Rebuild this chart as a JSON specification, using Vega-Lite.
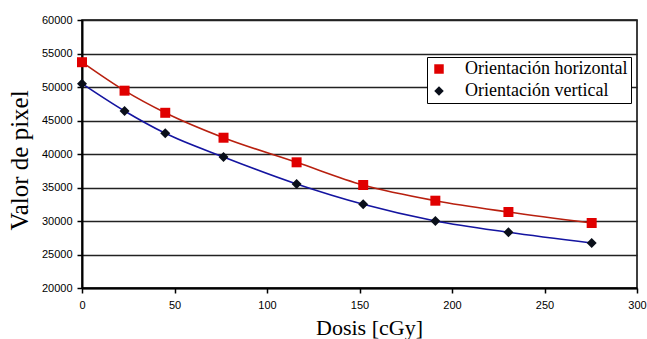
{
  "$schema": "https://vega.github.io/schema/vega-lite/v6.json",
  "width": 555,
  "height": 268,
  "autosize": "none",
  "padding": {"left": 82, "top": 20, "right": 10, "bottom": 51},
  "background": "white",
  "config": {
    "view": {"stroke": "black", "strokeWidth": 1.5},
    "axis": {
      "labelFont": "Liberation Sans",
      "labelFontSize": 11,
      "labelColor": "black",
      "titleFont": "Liberation Serif",
      "titleFontWeight": "normal",
      "titleColor": "black",
      "domainColor": "black",
      "domainWidth": 2,
      "tickColor": "black",
      "tickSize": 5,
      "tickWidth": 1.5
    }
  },
  "data": {
    "values": [
      {"dosis": 0, "valor": 53700, "serie": "Orientación horizontal"},
      {"dosis": 23, "valor": 49450, "serie": "Orientación horizontal"},
      {"dosis": 45, "valor": 46150, "serie": "Orientación horizontal"},
      {"dosis": 76.5, "valor": 42430, "serie": "Orientación horizontal"},
      {"dosis": 116, "valor": 38760, "serie": "Orientación horizontal"},
      {"dosis": 152, "valor": 35370, "serie": "Orientación horizontal"},
      {"dosis": 191, "valor": 33030, "serie": "Orientación horizontal"},
      {"dosis": 230.5, "valor": 31340, "serie": "Orientación horizontal"},
      {"dosis": 275.5, "valor": 29700, "serie": "Orientación horizontal"},
      {"dosis": 0, "valor": 50500, "serie": "Orientación vertical"},
      {"dosis": 23, "valor": 46420, "serie": "Orientación vertical"},
      {"dosis": 45, "valor": 43090, "serie": "Orientación vertical"},
      {"dosis": 76.5, "valor": 39550, "serie": "Orientación vertical"},
      {"dosis": 116, "valor": 35520, "serie": "Orientación vertical"},
      {"dosis": 152, "valor": 32490, "serie": "Orientación vertical"},
      {"dosis": 191, "valor": 30000, "serie": "Orientación vertical"},
      {"dosis": 230.5, "valor": 28310, "serie": "Orientación vertical"},
      {"dosis": 275.5, "valor": 26720, "serie": "Orientación vertical"}
    ]
  },
  "encoding": {
    "x": {
      "field": "dosis",
      "type": "quantitative",
      "scale": {"domain": [0, 300], "nice": false, "zero": false},
      "axis": {
        "title": "Dosis [cGy]",
        "titleFontSize": 22,
        "values": [0, 50, 100, 150, 200, 250, 300],
        "grid": false,
        "labelPadding": 6,
        "titlePadding": 7,
        "titleX": 287,
        "labelFlush": false
      }
    },
    "y": {
      "field": "valor",
      "type": "quantitative",
      "scale": {"domain": [20000, 60000], "nice": false, "zero": false},
      "axis": {
        "title": "Valor de pixel",
        "titleFontSize": 25,
        "values": [20000, 25000, 30000, 35000, 40000, 45000, 50000, 55000, 60000],
        "format": "d",
        "grid": true,
        "gridColor": "#222",
        "gridWidth": 1.3,
        "labelPadding": 5,
        "titlePadding": 9,
        "titleY": 140,
        "labelFlush": false
      }
    }
  },
  "layer": [
    {
      "transform": [{"filter": "datum.serie === 'Orientación horizontal'"}],
      "mark": {"type": "line", "interpolate": "monotone", "strokeWidth": 1.6, "color": "#b8200f"}
    },
    {
      "transform": [{"filter": "datum.serie === 'Orientación vertical'"}],
      "mark": {"type": "line", "interpolate": "monotone", "strokeWidth": 1.6, "color": "#1414a0"}
    },
    {
      "mark": {"type": "point", "filled": true, "opacity": 1, "size": 100},
      "encoding": {
        "color": {
          "field": "serie",
          "type": "nominal",
          "scale": {"domain": ["Orientación horizontal", "Orientación vertical"], "range": ["#e00000", "#0a0f1a"]},
          "legend": {
            "title": null,
            "orient": "none",
            "legendX": 345,
            "legendY": 37,
            "fillColor": "white",
            "strokeColor": "black",
            "padding": 3,
            "labelFont": "Liberation Serif",
            "labelFontSize": 18,
            "labelColor": "black",
            "labelLimit": 300,
            "labelOffset": 17,
            "rowPadding": 4,
            "symbolSize": 90,
            "symbolStrokeWidth": 0
          }
        },
        "shape": {
          "field": "serie",
          "type": "nominal",
          "scale": {"domain": ["Orientación horizontal", "Orientación vertical"], "range": ["square", "diamond"]}
        }
      }
    }
  ]
}
